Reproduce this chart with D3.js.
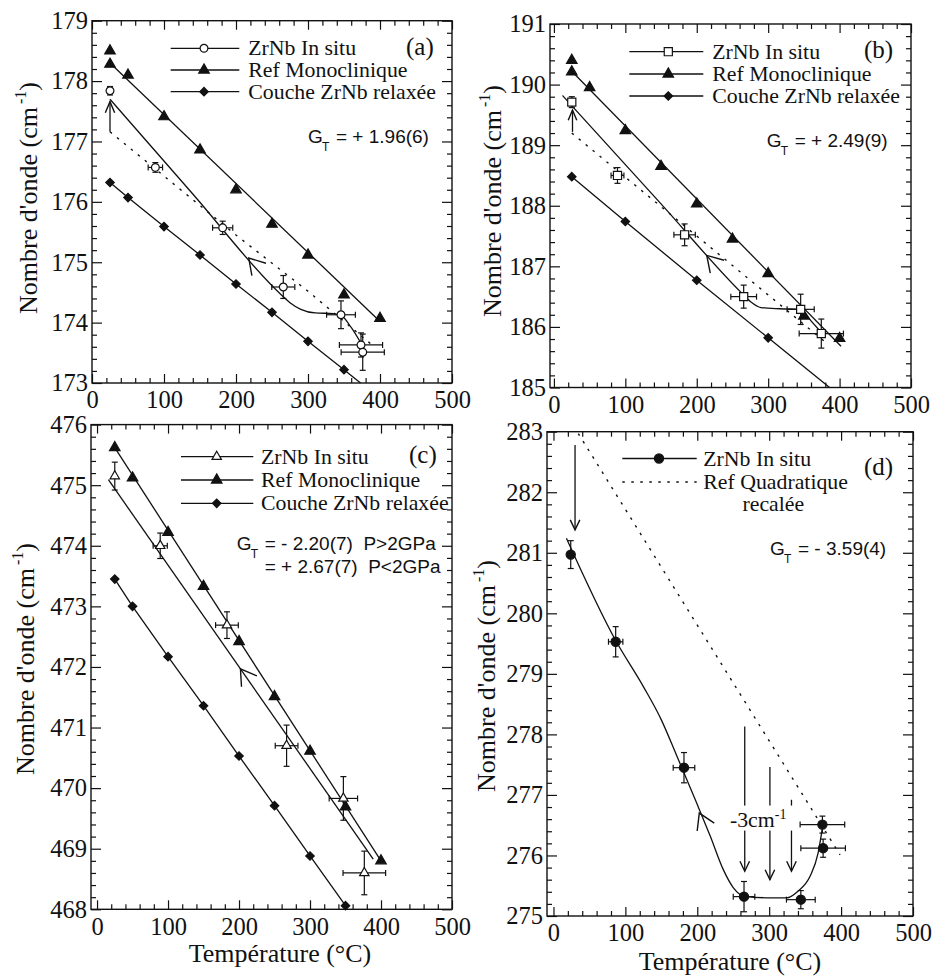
<!DOCTYPE html>
<html><head><meta charset="utf-8">
<script src="https://cdn.jsdelivr.net/npm/d3@7"></script>
<style>body{margin:0;background:#fff}svg{display:block}</style>
</head><body><svg id="chart" width="934" height="976"></svg>
<script>
// ===================== DATA =====================
const xTickValues = [0, 100, 200, 300, 400, 500];
const yTicksA = [173, 174, 175, 176, 177, 178, 179];
const yTicksB = [185, 186, 187, 188, 189, 190, 191];
const yTicksC = [468, 469, 470, 471, 472, 473, 474, 475, 476];
const yTicksD = [275, 276, 277, 278, 279, 280, 281, 282, 283];

const legendABC = ['ZrNb In situ', 'Ref Monoclinique', 'Couche ZrNb relaxée'];
const legendD = ['ZrNb In situ', 'Ref Quadratique', 'recalée'];

// ---- Panel (a)
const insituA_T  = [25, 88, 181.5, 265.7, 345.8, 373.6, 376];
const insituA_v  = [177.84, 176.57, 175.57, 174.59, 174.13, 173.63, 173.51];
const insituA_xe = [0, 10, 14, 16, 20, 30, 30];
const insituA_ye = [0.07, 0.08, 0.11, 0.19, 0.23, 0.2, 0.3];
const refA_T = [25, 25, 50, 100, 150, 200, 250, 300, 350, 400];
const refA_v = [178.50, 178.28, 178.10, 177.41, 176.86, 176.20, 175.63, 175.12, 174.46, 174.07];
const refLineA_T = [25, 400];
const refLineA_v = [178.30, 174.02];
const relaxA_T = [25, 50, 100, 150, 200, 250, 300, 350];
const relaxA_v = [176.32, 176.07, 175.59, 175.12, 174.64, 174.17, 173.69, 173.22];
const relaxLineA_T = [25, 50, 100, 150, 200, 250, 300, 350, 373];
const relaxLineA_v = [176.32, 176.07, 175.59, 175.12, 174.64, 174.17, 173.69, 173.22, 173.0];
const pathA_T = [25, 140, 262, 275, 290, 310, 335, 346, 360, 374];
const pathA_v = [177.70, 176.13, 174.47, 174.33, 174.22, 174.16, 174.15, 174.12, 173.92, 173.65];
const dotA_T = [25, 200, 300, 390];
const dotA_v = [177.16, 175.45, 174.52, 173.62];
const vArrowA = [25, 177.16, 177.66];          // T, tail value, tip value
const lineArrowA = [217.7, 175.07, 240, 174.77]; // tip T, tip v, tail T, tail v
const gtA = '= + 1.96(6)';

// ---- Panel (b)
const insituB_T  = [25, 89, 183, 265.7, 345.5, 374.4];
const insituB_v  = [189.71, 188.50, 187.52, 186.50, 186.29, 185.89];
const insituB_xe = [0, 9, 15, 18, 19, 31];
const insituB_ye = [0.09, 0.13, 0.18, 0.19, 0.25, 0.24];
const refB_T = [25, 25, 50, 100, 150, 200, 250, 300, 350, 400];
const refB_v = [190.40, 190.21, 189.95, 189.24, 188.65, 188.03, 187.45, 186.88, 186.18, 185.81];
const refLineB_T = [25, 402];
const refLineB_v = [190.22, 185.68];
const relaxB_T = [25, 100, 200, 300];
const relaxB_v = [188.48, 187.74, 186.77, 185.82];
const relaxLineB_T = [25, 100, 200, 300, 386];
const relaxLineB_v = [188.48, 187.74, 186.77, 185.82, 185.0];
const pathB_T = [12, 150, 262, 275, 290, 316, 346, 360, 375];
const pathB_v = [189.82, 188.03, 186.57, 186.42, 186.32, 186.30, 186.29, 186.10, 185.90];
const dotB_T = [25, 200, 381];
const dotB_v = [189.20, 187.50, 185.74];
const vArrowB = [26, 189.22, 189.58];
const lineArrowB = [214, 187.18, 236, 186.90];
const gtB = '= + 2.49(9)';

// ---- Panel (c)
const insituC_T  = [25, 89, 183, 267, 347, 376.5];
const insituC_v  = [475.15, 474.00, 472.69, 470.70, 469.83, 468.60];
const insituC_xe = [0, 10, 16, 16, 20, 30];
const insituC_ye = [0.23, 0.21, 0.22, 0.34, 0.36, 0.36];
const refC_T = [25, 50, 100, 150, 200, 250, 300, 350, 400];
const refC_v = [475.62, 475.12, 474.22, 473.33, 472.42, 471.51, 470.61, 469.69, 468.80];
const refLineC_T = [25, 400];
const refLineC_v = [475.62, 468.80];
const relaxC_T = [25, 50, 100, 150, 200, 250, 300, 350];
const relaxC_v = [473.45, 473.00, 472.17, 471.36, 470.53, 469.71, 468.88, 468.06];
const pathC_T = [16, 389];
const pathC_v = [475.09, 468.83];
const lineArrowC = [202, 471.97, 230, 471.50];
const gtC1 = '= - 2.20(7)  P>2GPa';
const gtC2 = '= + 2.67(7)  P<2GPa';

// ---- Panel (d)
const insituD_T  = [24, 86.5, 181.5, 265, 344, 374, 375];
const insituD_v  = [280.97, 279.53, 277.45, 275.32, 275.27, 276.51, 276.12];
const insituD_xe = [0, 10, 15, 15, 20, 31, 31];
const insituD_ye = [0.23, 0.25, 0.25, 0.25, 0.15, 0.14, 0.15];
const curveD_T = [18, 86.5, 125, 150, 171, 199, 218, 236, 250, 265, 301, 324, 340, 357, 368, 374];
const curveD_v = [281.24, 279.55, 278.79, 278.24, 277.66, 276.87, 276.32, 275.77, 275.47, 275.33, 275.30, 275.30, 275.41, 275.66, 276.04, 276.45];
const quadD_T = [34.5, 398.5];
const quadD_v = [282.97, 276.01];
const vArrowD = [30, 282.78, 281.38];
const shiftArrows_T   = [266, 301, 331];
const shiftArrows_top = [278.13, 277.46, 276.92];
const shiftArrows_tip = [275.74, 275.60, 275.74];
const shiftLabelPos = [283, 276.56];
const lineArrowD = [202.8, 276.70, 216, 276.36];
const gtD = '= - 3.59(4)';

// ===================== DRAWING =====================
const svg = d3.select('#chart');
const SERIF = "'Liberation Serif','Times New Roman',Times,serif";
const SANS = "'Liberation Sans',Arial,Helvetica,sans-serif";
const INK = '#111';
const LW = 1.3;
const LEG = 21.8;   // legend font size
const TITLE = 26;   // axis title font size
const zip = (a, b) => a.map((v, i) => [v, b[i]]);

const layout = {
  a: {x0: 92, x1: 452, y0: 20.7, y1: 383, xd: [0, 500], yd: [173, 179], yt: yTicksA},
  b: {x0: 550, x1: 911, y0: 24, y1: 387.5, xd: [-5.5, 500], yd: [185, 191], yt: yTicksB},
  c: {x0: 91, x1: 452, y0: 424.6, y1: 909.3, xd: [-8.5, 500], yd: [468, 476], yt: yTicksC},
  d: {x0: 547, x1: 913, y0: 431.7, y1: 916, xd: [-9, 500], yd: [275, 283], yt: yTicksD}
};

function setupPanel(p) {
  const x = d3.scaleLinear().domain(p.xd).range([p.x0, p.x1]);
  const y = d3.scaleLinear().domain(p.yd).range([p.y1, p.y0]);
  const g = svg.append('g');
  const ax = g.append('g');
  const xMinor = d3.range(0, 501, 20).filter(v => v % 100 !== 0);
  const yMinor = d3.range(p.yd[0] * 5, p.yd[1] * 5).filter(v => v % 5 !== 0).map(v => v / 5);
  ax.append('g').attr('transform', `translate(0,${p.y1})`)
    .call(d3.axisBottom(x).tickValues(xTickValues).tickSize(-9).tickPadding(8).tickFormat(d3.format('d')));
  ax.append('g').attr('transform', `translate(0,${p.y1})`)
    .call(d3.axisBottom(x).tickValues(xMinor).tickSize(-5).tickFormat(''));
  ax.append('g').attr('transform', `translate(0,${p.y0})`)
    .call(d3.axisTop(x).tickValues(xTickValues).tickSize(-9).tickFormat(''));
  ax.append('g').attr('transform', `translate(0,${p.y0})`)
    .call(d3.axisTop(x).tickValues(xMinor).tickSize(-5).tickFormat(''));
  ax.append('g').attr('transform', `translate(${p.x0},0)`)
    .call(d3.axisLeft(y).tickValues(p.yt).tickSize(-10).tickPadding(4).tickFormat(d3.format('d')));
  ax.append('g').attr('transform', `translate(${p.x0},0)`)
    .call(d3.axisLeft(y).tickValues(yMinor).tickSize(-5).tickFormat(''));
  ax.append('g').attr('transform', `translate(${p.x1},0)`)
    .call(d3.axisRight(y).tickValues(p.yt).tickSize(-10).tickFormat(''));
  ax.append('g').attr('transform', `translate(${p.x1},0)`)
    .call(d3.axisRight(y).tickValues(yMinor).tickSize(-5).tickFormat(''));
  ax.selectAll('.domain').remove();
  ax.selectAll('.tick line').attr('stroke', INK).attr('stroke-width', 1.2);
  ax.selectAll('.tick text').style('font-family', SERIF).attr('font-size', 24.5).attr('fill', INK);
  g.append('rect').attr('x', p.x0).attr('y', p.y0).attr('width', p.x1 - p.x0).attr('height', p.y1 - p.y0)
    .attr('fill', 'none').attr('stroke', INK).attr('stroke-width', 1.4);
  return {g, x, y};
}

function drawPath(P, Ts, Vs, opts = {}) {
  P.g.append('path').datum(zip(Ts, Vs))
    .attr('d', d3.line().x(d => P.x(d[0])).y(d => P.y(d[1])).curve(opts.curve || d3.curveLinear))
    .attr('fill', 'none').attr('stroke', INK).attr('stroke-width', opts.w || LW)
    .attr('stroke-dasharray', opts.dash || null);
}

function arrowHead(g, tx, ty, fx, fy, len, half) {
  const ang = Math.atan2(fy - ty, fx - tx);
  const p1 = [tx + len * Math.cos(ang + half), ty + len * Math.sin(ang + half)];
  const p2 = [tx + len * Math.cos(ang - half), ty + len * Math.sin(ang - half)];
  g.append('path').attr('d', `M${p1[0]},${p1[1]}L${tx},${ty}L${p2[0]},${p2[1]}`)
    .attr('fill', 'none').attr('stroke', INK).attr('stroke-width', 1.4);
}

function vArrow(P, T, from, tip, len = 11, half = 0.42) {
  const X = P.x(T), y1 = P.y(from), y2 = P.y(tip);
  P.g.append('line').attr('x1', X).attr('x2', X).attr('y1', y1).attr('y2', y2)
    .attr('stroke', INK).attr('stroke-width', LW);
  arrowHead(P.g, X, y2, X, y1, len, half);
}

function lineArrow(P, a) {
  arrowHead(P.g, P.x(a[0]), P.y(a[1]), P.x(a[2]), P.y(a[3]), 18, 0.55);
}

function errorBars(P, T, V, XE, YE) {
  const g = P.g.append('g').attr('stroke', INK).attr('stroke-width', 1.2);
  T.forEach((t, i) => {
    const cx = P.x(t), cy = P.y(V[i]);
    if (YE[i] > 0) {
      const a = P.y(V[i] - YE[i]), b = P.y(V[i] + YE[i]);
      g.append('line').attr('x1', cx).attr('x2', cx).attr('y1', a).attr('y2', b);
      [a, b].forEach(yy => g.append('line').attr('x1', cx - 3).attr('x2', cx + 3).attr('y1', yy).attr('y2', yy));
    }
    if (XE[i] > 0) {
      const a = P.x(t - XE[i]), b = P.x(t + XE[i]);
      g.append('line').attr('x1', a).attr('x2', b).attr('y1', cy).attr('y2', cy);
      [a, b].forEach(xx => g.append('line').attr('x1', xx).attr('x2', xx).attr('y1', cy - 3).attr('y2', cy + 3));
    }
  });
}

function markerPath(type) {
  if (type === 'triangle') return {d: d3.symbol(d3.symbolTriangle, 48)(), rot: 0};
  if (type === 'otriangle') return {d: d3.symbol(d3.symbolTriangle, 38)(), rot: 0};
  if (type === 'diamond') return {d: d3.symbol(d3.symbolSquare, 36)(), rot: 45};
  if (type === 'square') return {d: d3.symbol(d3.symbolSquare, 66)(), rot: 0};
  if (type === 'circle') return {d: d3.symbol(d3.symbolCircle, Math.PI * 3.9 * 3.9)(), rot: 0};
  return {d: d3.symbol(d3.symbolCircle, Math.PI * 4.6 * 4.6)(), rot: 0};
}

function marker(g, px, py, type, filled) {
  const m = markerPath(type);
  g.append('path').attr('d', m.d)
    .attr('transform', `translate(${px},${py}) rotate(${m.rot})`)
    .attr('fill', filled ? INK : '#fff').attr('stroke', INK).attr('stroke-width', 1.2);
}

function markers(P, T, V, type, filled) {
  T.forEach((t, i) => marker(P.g, P.x(t), P.y(V[i]), type, filled));
}

function serifText(g, x, y, size) {
  return g.append('text').attr('x', x).attr('y', y).style('font-family', SERIF)
    .attr('font-size', size).attr('fill', INK);
}

function legend(g, lx0, lx1, mx, rows, tx, entries) {
  entries.forEach((e, i) => {
    const yy = rows[i];
    g.append('line').attr('x1', lx0).attr('x2', lx1).attr('y1', yy).attr('y2', yy)
      .attr('stroke', INK).attr('stroke-width', LW).attr('stroke-dasharray', e.dash || null);
    if (e.type) marker(g, mx, yy, e.type, e.filled);
    serifText(g, tx, yy + 7, LEG).text(e.label);
  });
}

function tag(g, x, y, s) {
  serifText(g, x, y, 25).text(s);
}

function gt(g, x, yb, rest) {
  g.append('text').attr('x', x).attr('y', yb).style('font-family', SANS).attr('font-size', 19)
    .attr('fill', INK).text('G');
  g.append('text').attr('x', x + 14).attr('y', yb + 8).style('font-family', SANS).attr('font-size', 12)
    .attr('fill', INK).text('T');
  g.append('text').attr('x', x + 28).attr('y', yb).style('font-family', SANS).attr('font-size', 19)
    .attr('fill', INK).style('white-space', 'pre').text(rest);
}

function yTitle(cx, cy) {
  const t = svg.append('text').attr('transform', `translate(${cx},${cy}) rotate(-90)`)
    .attr('text-anchor', 'middle').style('font-family', SERIF).attr('font-size', TITLE).attr('fill', INK);
  t.append('tspan').text("Nombre d'onde (cm");
  t.append('tspan').attr('dx', 3).attr('dy', -11).attr('font-size', 16).text('-1');
  t.append('tspan').attr('dy', 11).text(')');
}

function xTitle(cx, by) {
  serifText(svg, cx, by, TITLE).attr('text-anchor', 'middle').text('Température (°C)');
}

const DOT = '2.5,6.5';

// ---------- Panel (a)
{
  const P = setupPanel(layout.a);
  drawPath(P, refLineA_T, refLineA_v);
  drawPath(P, relaxLineA_T, relaxLineA_v);
  drawPath(P, pathA_T, pathA_v, {curve: d3.curveMonotoneX});
  drawPath(P, dotA_T, dotA_v, {dash: DOT, w: 1.4});
  vArrow(P, vArrowA[0], vArrowA[1], vArrowA[2], 12, 0.4);
  lineArrow(P, lineArrowA);
  errorBars(P, insituA_T, insituA_v, insituA_xe, insituA_ye);
  markers(P, refA_T, refA_v, 'triangle', true);
  markers(P, relaxA_T, relaxA_v, 'diamond', true);
  markers(P, insituA_T, insituA_v, 'circle', false);
  legend(P.g, 170.7, 239.3, 204, [48.3, 70, 91.7], 248.3, [
    {label: legendABC[0], type: 'circle', filled: false},
    {label: legendABC[1], type: 'triangle', filled: true},
    {label: legendABC[2], type: 'diamond', filled: true}]);
  tag(P.g, 406, 55, '(a)');
  gt(P.g, 308, 143, gtA);
  yTitle(37, 198);
}

// ---------- Panel (b)
{
  const P = setupPanel(layout.b);
  drawPath(P, refLineB_T, refLineB_v);
  drawPath(P, relaxLineB_T, relaxLineB_v);
  drawPath(P, pathB_T, pathB_v, {curve: d3.curveMonotoneX});
  drawPath(P, dotB_T, dotB_v, {dash: DOT, w: 1.4});
  vArrow(P, vArrowB[0], vArrowB[1], vArrowB[2], 11, 0.4);
  lineArrow(P, lineArrowB);
  errorBars(P, insituB_T, insituB_v, insituB_xe, insituB_ye);
  markers(P, refB_T, refB_v, 'triangle', true);
  markers(P, relaxB_T, relaxB_v, 'diamond', true);
  markers(P, insituB_T, insituB_v, 'square', false);
  legend(P.g, 629.3, 703.3, 668.3, [51.7, 74, 96], 712.3, [
    {label: legendABC[0], type: 'square', filled: false},
    {label: legendABC[1], type: 'triangle', filled: true},
    {label: legendABC[2], type: 'diamond', filled: true}]);
  tag(P.g, 864, 58, '(b)');
  gt(P.g, 766.7, 147, gtB);
  yTitle(501, 201);
}

// ---------- Panel (c)
{
  const P = setupPanel(layout.c);
  drawPath(P, refLineC_T, refLineC_v);
  drawPath(P, relaxC_T, relaxC_v);
  drawPath(P, pathC_T, pathC_v);
  lineArrow(P, lineArrowC);
  errorBars(P, insituC_T, insituC_v, insituC_xe, insituC_ye);
  markers(P, refC_T, refC_v, 'triangle', true);
  markers(P, relaxC_T, relaxC_v, 'diamond', true);
  markers(P, insituC_T, insituC_v, 'otriangle', false);
  legend(P.g, 181, 253.3, 216.7, [456.7, 480, 503.3], 261, [
    {label: legendABC[0], type: 'otriangle', filled: false},
    {label: legendABC[1], type: 'triangle', filled: true},
    {label: legendABC[2], type: 'diamond', filled: true}]);
  tag(P.g, 409, 463, '(c)');
  gt(P.g, 236.7, 550, gtC1);
  P.g.append('text').attr('x', 264.7).attr('y', 573.3).style('font-family', SANS).attr('font-size', 19)
    .attr('fill', INK).style('white-space', 'pre').text(gtC2);
  yTitle(34, 659);
  xTitle(280, 962);
}

// ---------- Panel (d)
{
  const P = setupPanel(layout.d);
  drawPath(P, quadD_T, quadD_v, {dash: DOT, w: 1.4});
  drawPath(P, curveD_T, curveD_v, {curve: d3.curveMonotoneX});
  vArrow(P, vArrowD[0], vArrowD[1], vArrowD[2], 11, 0.45);
  shiftArrows_T.forEach((t, i) => vArrow(P, t, shiftArrows_top[i], shiftArrows_tip[i], 11, 0.45));
  const lx = P.x(shiftLabelPos[0]), ly = P.y(shiftLabelPos[1]);
  P.g.append('rect').attr('x', lx - 28).attr('y', ly - 16).attr('width', 66).attr('height', 25).attr('fill', '#fff');
  const lt = serifText(P.g, lx - 27, ly + 5, LEG);
  lt.append('tspan').text('-3cm');
  lt.append('tspan').attr('dy', -8).attr('font-size', 14).text('-1');
  lineArrow(P, lineArrowD);
  errorBars(P, insituD_T, insituD_v, insituD_xe, insituD_ye);
  markers(P, insituD_T, insituD_v, 'fcircle', true);
  legend(P.g, 622.3, 696.7, 659, [458.5, 482], 703.3, [
    {label: legendD[0], type: 'fcircle', filled: true},
    {label: legendD[1], dash: DOT}]);
  serifText(P.g, 773.3, 511, LEG).attr('text-anchor', 'middle').text(legendD[2]);
  tag(P.g, 864, 475, '(d)');
  gt(P.g, 770, 555, gtD);
  yTitle(495, 676);
  xTitle(730, 970);
}
</script></body></html>
